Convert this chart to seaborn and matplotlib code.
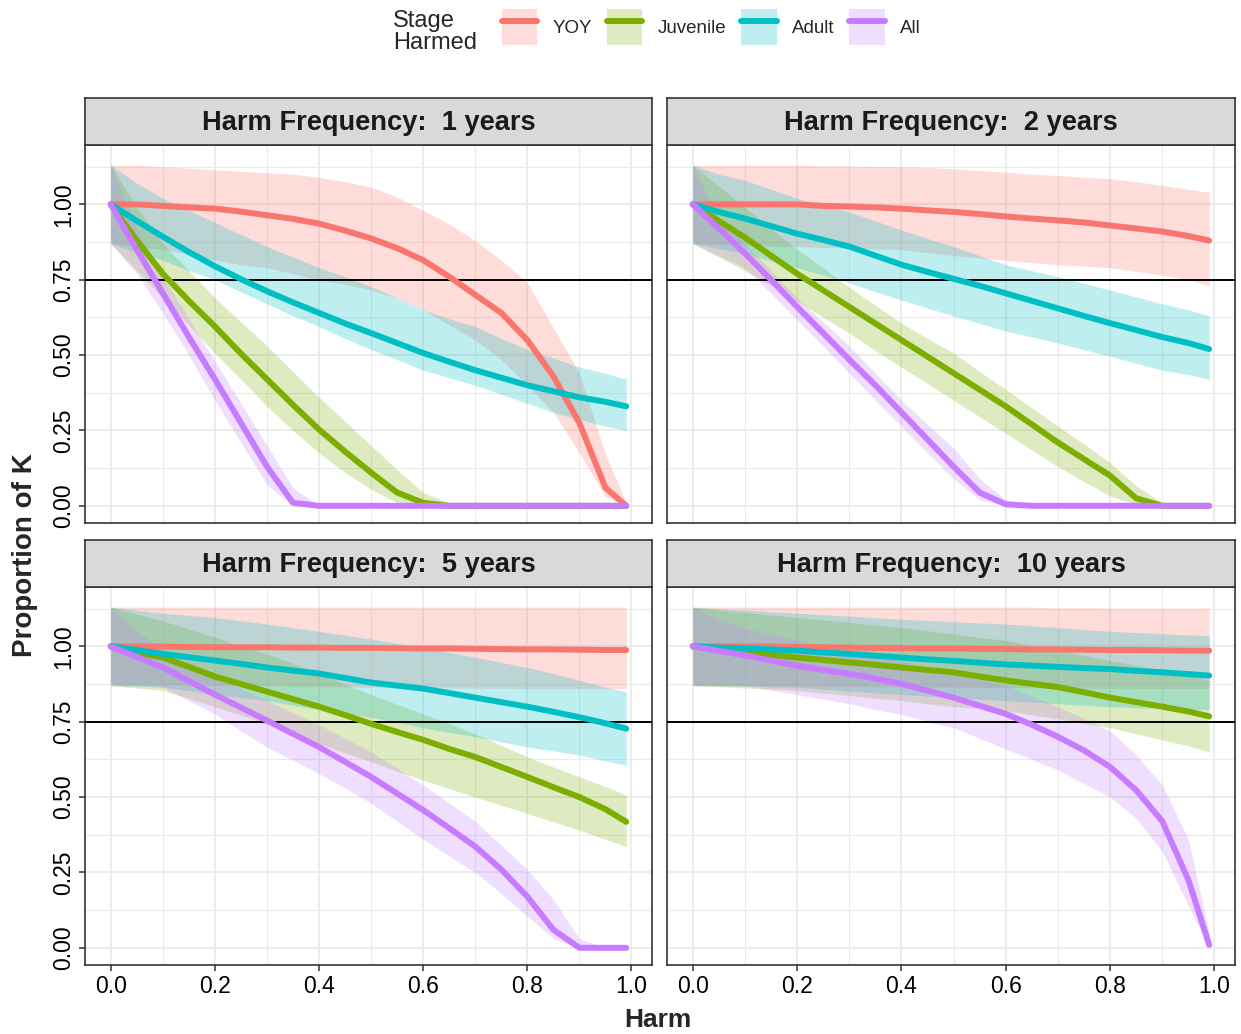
import numpy as np
import pandas as pd
import matplotlib
matplotlib.use("Agg")
import matplotlib.pyplot as plt
import seaborn as sns
from matplotlib.patches import Patch
from matplotlib.lines import Line2D

# harm levels on the x axis
harm = [0.0, 0.05, 0.1, 0.15, 0.2, 0.25, 0.3, 0.35, 0.4, 0.45, 0.5,
        0.55, 0.6, 0.65, 0.7, 0.75, 0.8, 0.85, 0.9, 0.95, 0.99]
stages = ["YOY", "Juvenile", "Adult", "All"]
colors = ["#F8766D", "#7CAE00", "#00BFC4", "#C77CFF"]
frequencies = [1, 2, 5, 10]

# ---- harm every 1 year ----
mean_f1 = {
    "YOY": [1.0, 1.0, 0.995, 0.99, 0.986, 0.976, 0.964, 0.952, 0.936, 0.913, 0.887,
            0.855, 0.815, 0.76, 0.70, 0.64, 0.55, 0.43, 0.275, 0.06, 0.0],
    "Juvenile": [1.0, 0.88, 0.77, 0.68, 0.595, 0.505, 0.42, 0.335, 0.253, 0.18, 0.11,
                 0.044, 0.01, 0.0, 0.0, 0.0, 0.0, 0.0, 0.0, 0.0, 0.0],
    "Adult": [1.0, 0.945, 0.893, 0.842, 0.795, 0.752, 0.712, 0.675, 0.64, 0.605, 0.573,
              0.54, 0.507, 0.478, 0.45, 0.425, 0.40, 0.38, 0.36, 0.345, 0.33],
    "All": [1.0, 0.85, 0.705, 0.56, 0.42, 0.275, 0.13, 0.01, 0.0, 0.0, 0.0,
            0.0, 0.0, 0.0, 0.0, 0.0, 0.0, 0.0, 0.0, 0.0, 0.0],
}
lo_f1 = {
    "YOY": [0.87, 0.86, 0.85, 0.835, 0.815, 0.80, 0.79, 0.77, 0.75, 0.735, 0.716,
            0.69, 0.65, 0.60, 0.55, 0.485, 0.40, 0.31, 0.176, 0.03, 0.0],
    "Juvenile": [0.87, 0.78, 0.69, 0.60, 0.506, 0.42, 0.33, 0.25, 0.176, 0.11, 0.055,
                 0.01, 0.0, 0.0, 0.0, 0.0, 0.0, 0.0, 0.0, 0.0, 0.0],
    "Adult": [0.87, 0.84, 0.815, 0.78, 0.75, 0.71, 0.67, 0.63, 0.595, 0.555, 0.518,
              0.485, 0.45, 0.425, 0.40, 0.37, 0.34, 0.31, 0.286, 0.265, 0.25],
    "All": [0.87, 0.77, 0.64, 0.50, 0.35, 0.21, 0.07, 0.0, 0.0, 0.0, 0.0,
            0.0, 0.0, 0.0, 0.0, 0.0, 0.0, 0.0, 0.0, 0.0, 0.0],
}
hi_f1 = {
    "YOY": [1.13, 1.13, 1.125, 1.12, 1.115, 1.11, 1.105, 1.10, 1.09, 1.075, 1.057,
            1.025, 0.98, 0.935, 0.88, 0.815, 0.74, 0.59, 0.44, 0.17, 0.01],
    "Juvenile": [1.13, 0.99, 0.87, 0.78, 0.69, 0.61, 0.53, 0.445, 0.36, 0.28, 0.20,
                 0.12, 0.044, 0.01, 0.0, 0.0, 0.0, 0.0, 0.0, 0.0, 0.0],
    "Adult": [1.13, 1.07, 1.02, 0.98, 0.94, 0.90, 0.86, 0.825, 0.79, 0.76, 0.727,
              0.69, 0.65, 0.62, 0.595, 0.555, 0.518, 0.49, 0.46, 0.44, 0.42],
    "All": [1.13, 0.92, 0.76, 0.62, 0.48, 0.34, 0.20, 0.06, 0.0, 0.0, 0.0,
            0.0, 0.0, 0.0, 0.0, 0.0, 0.0, 0.0, 0.0, 0.0, 0.0],
}

# ---- harm every 2 years ----
mean_f2 = {
    "YOY": [1.0, 1.0, 1.0, 1.0, 1.0, 0.995, 0.993, 0.99, 0.986, 0.98, 0.975,
            0.968, 0.96, 0.953, 0.947, 0.94, 0.93, 0.92, 0.91, 0.895, 0.88],
    "Juvenile": [1.0, 0.945, 0.89, 0.83, 0.77, 0.715, 0.66, 0.605, 0.55, 0.495, 0.44,
                 0.385, 0.33, 0.27, 0.21, 0.155, 0.10, 0.025, 0.0, 0.0, 0.0],
    "Adult": [1.0, 0.975, 0.953, 0.928, 0.903, 0.882, 0.86, 0.83, 0.80, 0.776, 0.753,
              0.73, 0.705, 0.68, 0.655, 0.63, 0.606, 0.583, 0.56, 0.54, 0.52],
    "All": [1.0, 0.92, 0.837, 0.75, 0.66, 0.573, 0.485, 0.40, 0.31, 0.22, 0.13,
            0.044, 0.005, 0.0, 0.0, 0.0, 0.0, 0.0, 0.0, 0.0, 0.0],
}
lo_f2 = {
    "YOY": [0.87, 0.867, 0.865, 0.862, 0.86, 0.857, 0.855, 0.852, 0.85, 0.84, 0.83,
            0.822, 0.815, 0.807, 0.80, 0.795, 0.79, 0.778, 0.765, 0.75, 0.73],
    "Juvenile": [0.87, 0.825, 0.78, 0.73, 0.68, 0.625, 0.573, 0.515, 0.46, 0.405, 0.35,
                 0.295, 0.24, 0.185, 0.13, 0.08, 0.033, 0.005, 0.0, 0.0, 0.0],
    "Adult": [0.87, 0.853, 0.837, 0.813, 0.79, 0.765, 0.74, 0.71, 0.683, 0.656, 0.63,
              0.605, 0.58, 0.56, 0.54, 0.518, 0.496, 0.473, 0.45, 0.435, 0.42],
    "All": [0.87, 0.83, 0.79, 0.705, 0.617, 0.53, 0.44, 0.35, 0.264, 0.175, 0.09,
            0.02, 0.0, 0.0, 0.0, 0.0, 0.0, 0.0, 0.0, 0.0, 0.0],
}
hi_f2 = {
    "YOY": [1.13, 1.13, 1.13, 1.13, 1.13, 1.128, 1.127, 1.126, 1.125, 1.122, 1.118,
            1.112, 1.107, 1.10, 1.096, 1.09, 1.085, 1.075, 1.063, 1.05, 1.04],
    "Juvenile": [1.13, 1.06, 0.99, 0.92, 0.85, 0.79, 0.725, 0.665, 0.606, 0.555, 0.507,
                 0.445, 0.386, 0.325, 0.264, 0.205, 0.143, 0.066, 0.01, 0.0, 0.0],
    "Adult": [1.13, 1.10, 1.08, 1.05, 1.02, 0.997, 0.975, 0.945, 0.915, 0.887, 0.86,
              0.83, 0.80, 0.78, 0.76, 0.738, 0.716, 0.693, 0.67, 0.65, 0.63],
    "All": [1.13, 0.95, 0.87, 0.78, 0.69, 0.61, 0.53, 0.44, 0.35, 0.27, 0.19,
            0.09, 0.02, 0.0, 0.0, 0.0, 0.0, 0.0, 0.0, 0.0, 0.0],
}

# ---- harm every 5 years ----
mean_f5 = {
    "YOY": [1.0, 1.0, 0.999, 0.998, 0.997, 0.997, 0.997, 0.996, 0.996, 0.995, 0.995,
            0.994, 0.993, 0.993, 0.992, 0.991, 0.99, 0.99, 0.989, 0.988, 0.988],
    "Juvenile": [1.0, 0.98, 0.963, 0.932, 0.90, 0.875, 0.85, 0.825, 0.80, 0.772, 0.743,
                 0.716, 0.69, 0.66, 0.633, 0.60, 0.567, 0.533, 0.50, 0.46, 0.418],
    "Adult": [1.0, 0.988, 0.975, 0.964, 0.953, 0.942, 0.93, 0.92, 0.91, 0.895, 0.88,
              0.87, 0.86, 0.845, 0.83, 0.815, 0.80, 0.783, 0.765, 0.745, 0.727],
    "All": [1.0, 0.965, 0.93, 0.885, 0.84, 0.797, 0.754, 0.71, 0.666, 0.617, 0.567,
            0.512, 0.457, 0.397, 0.336, 0.26, 0.17, 0.06, 0.0, 0.0, 0.0],
}
lo_f5 = {
    "YOY": [0.875, 0.874, 0.873, 0.872, 0.871, 0.87, 0.869, 0.868, 0.867, 0.866, 0.865,
            0.864, 0.863, 0.862, 0.862, 0.861, 0.86, 0.86, 0.86, 0.86, 0.86],
    "Juvenile": [0.87, 0.862, 0.854, 0.827, 0.80, 0.772, 0.743, 0.71, 0.677, 0.647, 0.617,
                 0.586, 0.556, 0.528, 0.50, 0.473, 0.446, 0.418, 0.39, 0.36, 0.336],
    "Adult": [0.87, 0.868, 0.865, 0.853, 0.84, 0.83, 0.82, 0.805, 0.79, 0.778, 0.765,
              0.748, 0.73, 0.715, 0.70, 0.683, 0.666, 0.653, 0.64, 0.62, 0.606],
    "All": [0.87, 0.87, 0.865, 0.82, 0.776, 0.72, 0.666, 0.622, 0.578, 0.53, 0.48,
            0.42, 0.36, 0.305, 0.25, 0.18, 0.105, 0.03, 0.0, 0.0, 0.0],
}
hi_f5 = {
    "YOY": [1.13, 1.13, 1.13, 1.13, 1.13, 1.13, 1.13, 1.13, 1.13, 1.13, 1.13,
            1.13, 1.13, 1.13, 1.13, 1.13, 1.13, 1.13, 1.13, 1.13, 1.13],
    "Juvenile": [1.13, 1.107, 1.085, 1.057, 1.03, 1.0, 0.975, 0.943, 0.91, 0.875, 0.84,
                 0.808, 0.776, 0.743, 0.71, 0.672, 0.633, 0.60, 0.567, 0.535, 0.507],
    "Adult": [1.13, 1.12, 1.11, 1.103, 1.096, 1.085, 1.074, 1.062, 1.05, 1.037, 1.024,
              1.01, 0.997, 0.98, 0.964, 0.947, 0.93, 0.91, 0.887, 0.865, 0.85],
    "All": [1.13, 1.05, 0.99, 0.945, 0.90, 0.86, 0.82, 0.78, 0.74, 0.695, 0.65,
            0.595, 0.54, 0.48, 0.42, 0.34, 0.26, 0.16, 0.03, 0.0, 0.0],
}

# ---- harm every 10 years ----
mean_f10 = {
    "YOY": [1.0, 1.0, 1.0, 0.999, 0.998, 0.997, 0.996, 0.995, 0.994, 0.993, 0.993,
            0.992, 0.991, 0.99, 0.99, 0.989, 0.988, 0.988, 0.987, 0.986, 0.986],
    "Juvenile": [1.0, 0.99, 0.98, 0.972, 0.963, 0.955, 0.947, 0.939, 0.93, 0.922, 0.914,
                 0.90, 0.887, 0.876, 0.865, 0.848, 0.83, 0.815, 0.80, 0.784, 0.768],
    "Adult": [1.0, 0.996, 0.993, 0.99, 0.986, 0.98, 0.975, 0.969, 0.963, 0.957, 0.952,
              0.946, 0.94, 0.936, 0.932, 0.928, 0.925, 0.919, 0.914, 0.908, 0.903],
    "All": [1.0, 0.985, 0.97, 0.953, 0.936, 0.922, 0.909, 0.893, 0.876, 0.853, 0.83,
            0.803, 0.776, 0.74, 0.70, 0.655, 0.60, 0.523, 0.42, 0.226, 0.01],
}
lo_f10 = {
    "YOY": [0.87, 0.87, 0.87, 0.869, 0.868, 0.868, 0.867, 0.866, 0.866, 0.865, 0.865,
            0.864, 0.863, 0.863, 0.862, 0.862, 0.861, 0.861, 0.86, 0.86, 0.86],
    "Juvenile": [0.87, 0.866, 0.862, 0.858, 0.854, 0.845, 0.837, 0.828, 0.82, 0.81, 0.80,
                 0.795, 0.787, 0.773, 0.76, 0.745, 0.73, 0.71, 0.69, 0.67, 0.65],
    "Adult": [0.87, 0.869, 0.868, 0.866, 0.865, 0.858, 0.852, 0.846, 0.84, 0.835, 0.83,
              0.825, 0.82, 0.815, 0.81, 0.805, 0.80, 0.797, 0.794, 0.791, 0.79],
    "All": [0.87, 0.87, 0.87, 0.855, 0.84, 0.825, 0.81, 0.79, 0.775, 0.75, 0.73,
            0.695, 0.66, 0.625, 0.59, 0.545, 0.50, 0.43, 0.32, 0.14, 0.0],
}
hi_f10 = {
    "YOY": [1.13, 1.13, 1.13, 1.13, 1.13, 1.13, 1.13, 1.13, 1.13, 1.13, 1.13,
            1.13, 1.13, 1.13, 1.128, 1.128, 1.127, 1.127, 1.127, 1.127, 1.127],
    "Juvenile": [1.13, 1.121, 1.113, 1.104, 1.096, 1.088, 1.08, 1.071, 1.063, 1.052, 1.041,
                 1.03, 1.02, 1.003, 0.987, 0.97, 0.953, 0.937, 0.92, 0.903, 0.887],
    "Adult": [1.13, 1.125, 1.12, 1.115, 1.11, 1.105, 1.1, 1.095, 1.09, 1.086, 1.082,
              1.078, 1.074, 1.068, 1.062, 1.056, 1.05, 1.046, 1.042, 1.038, 1.035],
    "All": [1.13, 1.09, 1.06, 1.04, 1.02, 1.0, 0.98, 0.965, 0.95, 0.93, 0.91,
            0.89, 0.87, 0.835, 0.80, 0.76, 0.72, 0.64, 0.54, 0.36, 0.05],
}

panels = [(mean_f1, lo_f1, hi_f1), (mean_f2, lo_f2, hi_f2),
          (mean_f5, lo_f5, hi_f5), (mean_f10, lo_f10, hi_f10)]

# long table for seaborn
rows = []
for freq, (mean, lo, hi) in zip(frequencies, panels):
    for st in stages:
        for h, m, l, u in zip(harm, mean[st], lo[st], hi[st]):
            rows.append({"Freq": freq, "Stage": st, "Harm": h, "mean": m, "lo": l, "hi": u})
df = pd.DataFrame(rows)

sns.set_style("white")
plt.rcParams["font.family"] = ["Liberation Sans", "DejaVu Sans"]

W, H = 1241, 1034
fig = plt.figure(figsize=(W / 100, H / 100), dpi=100)
pal = dict(zip(stages, colors))

# panel boxes in pixels: (left, right) and (top, bottom)
cols = [(85, 652), (667, 1235)]
rows_px = [(145, 523), (587, 965)]
strip_h = 47
grey20 = "#333333"

for i, freq in enumerate(frequencies):
    r, c = divmod(i, 2)
    l, rr = cols[c]
    t, b = rows_px[r]
    ax = fig.add_axes([l / W, 1 - b / H, (rr - l) / W, (b - t) / H])
    sub = df[df["Freq"] == freq]
    for st in stages:
        s = sub[sub["Stage"] == st]
        ax.fill_between(s["Harm"], s["lo"], s["hi"], color=pal[st], alpha=0.25, linewidth=0)
    ax.axhline(0.75, color="black", lw=1.4, zorder=3)
    sns.lineplot(data=sub, x="Harm", y="mean", hue="Stage", hue_order=stages,
                 palette=pal, linewidth=4.3, legend=False, ax=ax, zorder=4)
    ax.set_xlim(-0.0495, 1.0395)
    ax.set_ylim(-0.057, 1.197)
    ax.set_xticks([0, 0.2, 0.4, 0.6, 0.8, 1.0])
    ax.set_xticks([0.1, 0.3, 0.5, 0.7, 0.9], minor=True)
    ax.set_yticks([0, 0.25, 0.5, 0.75, 1.0])
    ax.set_yticks([0.125, 0.375, 0.625, 0.875, 1.125], minor=True)
    ax.grid(which="major", color="#EBEBEB", lw=1.3)
    ax.grid(which="minor", color="#EBEBEB", lw=0.8)
    ax.set_axisbelow(True)
    for sp in ax.spines.values():
        sp.set_color(grey20)
        sp.set_linewidth(1.2)
    ax.set_xlabel("")
    ax.set_ylabel("")
    ax.tick_params(which="major", length=4, width=1.1, color=grey20, labelsize=16.5,
                   labelcolor="black", pad=3, bottom=(r == 1), left=(c == 0),
                   labelbottom=(r == 1), labelleft=(c == 0))
    ax.tick_params(which="minor", length=0)
    ax.set_xticklabels(["0.0", "0.2", "0.4", "0.6", "0.8", "1.0"])
    ax.set_yticklabels(["0.00", "0.25", "0.50", "0.75", "1.00"])
    for lab in ax.get_yticklabels():
        lab.set_rotation(90)
        lab.set_va("center")
        lab.set_ha("right")

    # facet strip
    sax = fig.add_axes([l / W, 1 - t / H, (rr - l) / W, strip_h / H])
    sax.set_facecolor("#D9D9D9")
    sax.set_xticks([])
    sax.set_yticks([])
    for sp in sax.spines.values():
        sp.set_color(grey20)
        sp.set_linewidth(1.2)
    sax.text(0.5, 0.47, f"Harm Frequency:  {freq} years", ha="center", va="center",
             fontsize=19.6, fontweight="bold", color="#1A1A1A", transform=sax.transAxes)

fig.text(658 / W, 1 - 1020 / H, "Harm", ha="center", va="center",
         fontsize=19, fontweight="bold")
fig.text(25 / W, 1 - 555 / H, "Proportion of K", ha="center", va="center",
         rotation=90, fontsize=20, fontweight="bold")

# legend on top
handles = [(Patch(facecolor=col, alpha=0.25, edgecolor="none"),
            Line2D([], [], color=col, lw=4.3)) for col in colors]
fig.legend(handles, stages, loc="center left", bbox_to_anchor=(494 / W, 1 - 27 / H),
           ncol=4, frameon=False, fontsize=13.5, handlelength=1.9, handleheight=2.5,
           handletextpad=0.8, columnspacing=0.8, borderaxespad=0)
fig.text(393 / W, 1 - 32 / H, "Stage\nHarmed", ha="left", va="center",
         fontsize=17, linespacing=1.0)

fig.savefig("out.png", dpi=100)
